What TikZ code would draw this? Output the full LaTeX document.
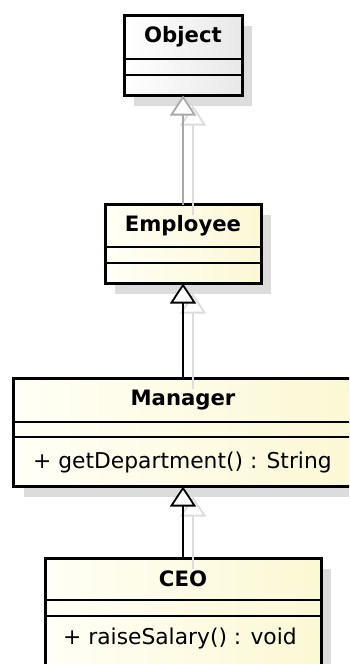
\documentclass[tikz,border=0pt]{standalone}
\usepackage{fontspec}
\setmainfont{DejaVu Sans}
\usetikzlibrary{arrows.meta,shadows}
\definecolor{boxshadow}{HTML}{DCDCDC}
\definecolor{linkshadow}{HTML}{DCDCDC}
\definecolor{linkgray}{HTML}{A8A8A8}
\definecolor{paleyellow}{HTML}{FBF8D4}
\definecolor{creamwhite}{HTML}{FFFFF6}
\definecolor{palegray}{HTML}{E8E8E8}
\tikzset{
  umlclass/.style={rectangle, draw=black, line width=3pt, inner sep=0pt, outer sep=0pt,
    left color=creamwhite, right color=paleyellow,
    drop shadow={shadow xshift=10pt, shadow yshift=-10pt, fill=boxshadow, opacity=1}},
  rootclass/.style={umlclass, left color=white, right color=palegray},
  divider/.style={line width=1.5pt, draw=black},
  classname/.style={font=\fontsize{21.2}{25}\selectfont\bfseries, inner sep=0pt},
  member/.style={font=\fontsize{21.8}{26}\selectfont, inner sep=0pt, anchor=west},
  genlink/.style={line width=1.8pt, draw=black,
    -{Triangle[length=20pt, width=26pt, fill=white]}},
  genlinkgray/.style={genlink, draw=linkgray},
  genshadow/.style={genlink, draw=linkshadow}
}
\begin{document}
\begin{tikzpicture}[x=1pt, y=-1pt]
\useasboundingbox (0,0) rectangle (349,664);
\clip (0,0) rectangle (349,664);

% class boxes
\node[rootclass, minimum width=118pt, minimum height=80pt] (obj) at (183,55.5) {};
\node[umlclass, minimum width=156pt, minimum height=79pt] (emp) at (183,244) {};
\node[umlclass, minimum width=339pt, minimum height=108pt] (mgr) at (183,432.5) {};
\node[umlclass, minimum width=276pt, minimum height=107pt] (ceo) at (183,612) {};

% compartment separators
\draw[divider] (obj.west |- 0,59) -- (obj.east |- 0,59);
\draw[divider] (obj.west |- 0,75) -- (obj.east |- 0,75);
\draw[divider] (emp.west |- 0,247) -- (emp.east |- 0,247);
\draw[divider] (emp.west |- 0,263) -- (emp.east |- 0,263);
\draw[divider] (mgr.west |- 0,422) -- (mgr.east |- 0,422);
\draw[divider] (mgr.west |- 0,437) -- (mgr.east |- 0,437);
\draw[divider] (ceo.west |- 0,600) -- (ceo.east |- 0,600);
\draw[divider] (ceo.west |- 0,616) -- (ceo.east |- 0,616);

% names and operations
\node[classname] (objname) at (183,37) {Object};
\node[classname] (empname) at (183,225.5) {Employee};
\node[classname] (mgrname) at (183,400) {Manager};
\node[classname] (ceoname) at (183,578.5) {CEO};
\node[member] (mgrop) at (33,462) {+ getDepartment() : String};
\node[member] (ceoop) at (63,638) {+ raiseSalary() : void};

% generalization shadows
\draw[genshadow] ([shift={(10,10)}]emp.north) -- ([shift={(10,10)}]obj.south);
\draw[genshadow] ([shift={(10,10)}]mgr.north) -- ([shift={(10,10)}]emp.south);
\draw[genshadow] ([shift={(10,10)}]ceo.north) -- ([shift={(10,10)}]mgr.south);

% generalizations
\draw[genlinkgray] (emp.north) -- (obj.south);
\draw[genlink] (mgr.north) -- (emp.south);
\draw[genlink] (ceo.north) -- (mgr.south);
\end{tikzpicture}
\end{document}
